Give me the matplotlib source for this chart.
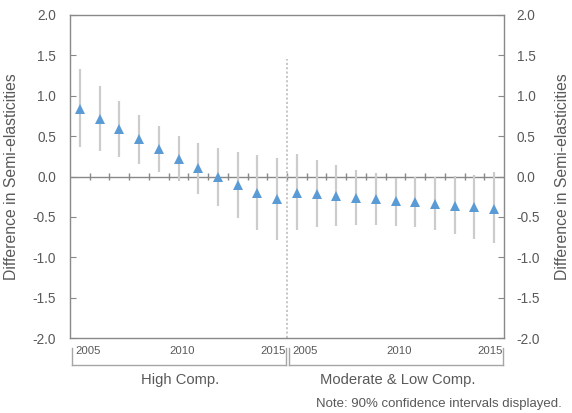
import matplotlib
matplotlib.use('Agg')
import matplotlib.pyplot as plt
from matplotlib.lines import Line2D

plt.rcParams['font.family'] = ['Liberation Sans', 'DejaVu Sans']

# Data.
years = list(range(2005, 2016))
groups = ['High Comp.', 'Moderate & Low Comp.']
shown_years = [2005, 2010, 2015]

high_est = [0.84, 0.71, 0.59, 0.46, 0.34, 0.22, 0.105, 0.00, -0.11, -0.20, -0.28]
high_lo = [0.36, 0.31, 0.24, 0.155, 0.06, -0.06, -0.22, -0.365, -0.52, -0.66, -0.79]
high_hi = [1.33, 1.12, 0.93, 0.76, 0.62, 0.50, 0.42, 0.35, 0.30, 0.27, 0.23]

mod_est = [-0.20, -0.22, -0.24, -0.27, -0.28, -0.30, -0.32, -0.34, -0.36, -0.38, -0.40]
mod_lo = [-0.66, -0.63, -0.61, -0.60, -0.60, -0.61, -0.63, -0.66, -0.71, -0.77, -0.82]
mod_hi = [0.28, 0.20, 0.14, 0.08, 0.04, -0.02, 0.00, 0.00, 0.01, 0.02, 0.05]

yticks = [-2.0, -1.5, -1.0, -0.5, 0.0, 0.5, 1.0, 1.5, 2.0]

TEXT = '#595959'
AXIS = '#898989'
BLUE = '#5B9BD5'
CI = '#cccccc'

est = high_est + mod_est
lo = high_lo + mod_lo
hi = high_hi + mod_hi
n = len(est)
ng = len(years)
xs = [i + 0.5 for i in range(n)]

fig = plt.figure(figsize=(5.72, 4.13), dpi=100)
ax = fig.add_axes([70 / 572, 1 - 338 / 413, 434 / 572, 323 / 413])

# confidence intervals and point estimates
ax.vlines(xs, lo, hi, color=CI, lw=1.6, zorder=2)
ax.plot(xs, est, '^', color=BLUE, ms=7, mew=0, zorder=3)

# zero axis with category ticks
ax.axhline(0, color=AXIS, lw=1, zorder=1)
ax.vlines(range(1, n), -0.04, 0.04, color=AXIS, lw=1, zorder=1)

# group divider
ax.vlines(ng, -2, 1.45, color='#c4c4c4', lw=1.3, linestyles=(0, (1.2, 1.2)), zorder=1)

ax.set_xlim(0, n)
ax.set_ylim(-2, 2)
ax.set_xticks([])
ax.set_yticks(yticks)
ax.set_yticklabels(['%.1f' % v for v in yticks])
ax.tick_params(axis='y', direction='in', length=4, color=AXIS,
               labelcolor=TEXT, labelsize=9.8, pad=10)
for s in ax.spines.values():
    s.set_color(AXIS)
    s.set_linewidth(1)

ax.set_ylabel('Difference in Semi-elasticities', color=TEXT, fontsize=11.3)
ax.yaxis.set_label_coords(-0.1175, 0.5)

ax2 = ax.twinx()
ax2.set_ylim(-2, 2)
ax2.set_yticks(yticks)
ax2.set_yticklabels(['%.1f' % v for v in yticks])
ax2.tick_params(axis='y', direction='in', length=4, color=AXIS,
                labelcolor=TEXT, labelsize=9.8, pad=9)
for s in ax2.spines.values():
    s.set_visible(False)
ax2.set_ylabel('Difference in Semi-elasticities', color=TEXT, fontsize=11.3,
               rotation=90)
ax2.yaxis.set_label_coords(1.1175, 0.5)

# multi-level category axis
tr = ax.get_xaxis_transform()
h = 323.0
for g, name in enumerate(groups):
    start = g * ng
    ax.text(start + 0.25, -13 / h, str(shown_years[0]), transform=tr,
            ha='left', va='center', fontsize=8.2, color=TEXT)
    ax.text(start + 5.7, -13 / h, str(shown_years[1]), transform=tr,
            ha='center', va='center', fontsize=8.2, color=TEXT)
    ax.text(start + ng - 0.05, -13 / h, str(shown_years[2]), transform=tr,
            ha='right', va='center', fontsize=8.2, color=TEXT)
    x0 = start + 0.09
    x1 = start + ng - 0.06
    yb = -27 / h
    yt = -10 / h
    for line in ([x0, x0], [yt, yb]), ([x0, x1], [yb, yb]), ([x1, x1], [yb, yt]):
        ax.add_line(Line2D(line[0], line[1], transform=tr, color='#a6a6a6',
                           lw=1, clip_on=False))
    ax.text(start + ng / 2 + 0.1, -42 / h, name, transform=tr, ha='center',
            va='center', fontsize=10.6, color=TEXT)

fig.text(562 / 572, 1 - 404 / 413, 'Note: 90% confidence intervals displayed.',
         ha='right', va='center', fontsize=9.5, color=TEXT)

fig.savefig('out.png', dpi=100)
